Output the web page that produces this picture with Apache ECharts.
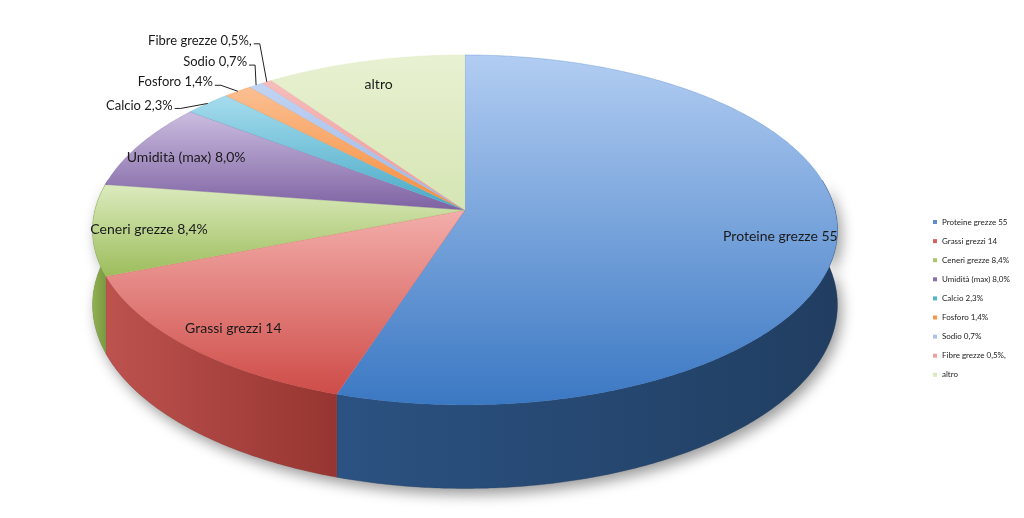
<!DOCTYPE html>
<html>
<head>
<meta charset="utf-8">
<script src="https://cdn.jsdelivr.net/npm/echarts@6/dist/echarts.min.js"></script>
<style>
  html, body { margin: 0; padding: 0; background: #fff; }
  #main { width: 1024px; height: 518px; }
</style>
</head>
<body>
<div id="main"></div>
<script>
// dati
var categories = ['Proteine grezze 55', 'Grassi grezzi 14', 'Ceneri grezze 8,4%', 'Umidità (max) 8,0%',
  'Calcio 2,3%', 'Fosforo 1,4%', 'Sodio 0,7%', 'Fibre grezze 0,5%,', 'altro'];
var values = [55, 14, 8.4, 8.0, 2.3, 1.4, 0.7, 0.5, 9.7];

// colori (chiaro in alto, scuro in basso) e pareti
var legendColors = ['#5b8bd0', '#d9625e', '#a9c86c', '#8a70ae', '#52b3cf', '#f79646', '#a9c2ea', '#eea3a2', '#dbe8c0'];
var topLight = ['#b2cdf2', '#f3aeab', '#dcebbf', '#cbbde0', '#a6dcee', '#fbbf92', '#c1d4f3', '#f6bdbc', '#e8f1d2'];
var topDark = ['#3b78c3', '#ce4c48', '#9cbd5b', '#7e62a2', '#47a9c5', '#f68c3a', '#9ab6e4', '#ec9795', '#d5e5b3'];
var wallLight = ['#2b5282', '#bd524e', '#90b150', '#6c528c', '#3b93ab', '#d87a2e', '#7f9bc7', '#c97d7c', '#b6c795'];
var wallDark = ['#213e61', '#963531', '#7b9843', '#574273', '#2f7a8e', '#b86424', '#6a84ad', '#a96766', '#9aab7a'];

// geometria della torta 3D in prospettiva
var CX = 465, CY = 210, RX = 370, RY = 172.7, P = 0.114, H = 74;
// posizione etichette esterne rispetto al bordo (fette piccole)
var outerOffsets = { 4: [-35, 2], 5: [-25, -9], 6: [-9, -23], 7: [-15, -41] };
var FONT = 'Lato, "Open Sans", sans-serif';

var total = values.reduce(function (a, b) { return a + b; }, 0);
var starts = [];
var acc = 0;
values.forEach(function (v) { starts.push(acc / total); acc += v; });

function proj(theta, r, drop) {
  var s = Math.sin(theta), c = Math.cos(theta);
  var w = 1 + P * r * c;
  return [CX + RX * r * s / w, CY - RY * r * c / w + (drop ? H / w : 0)];
}

function rim(a0, a1, drop) {
  var pts = [];
  var n = Math.max(2, Math.ceil((a1 - a0) / (Math.PI / 360)));
  for (var k = 0; k <= n; k++) {
    pts.push(proj(a0 + (a1 - a0) * k / n, 1, drop));
  }
  return pts;
}

function renderSlice(i) {
  var a0 = starts[i] * Math.PI * 2;
  var a1 = (starts[i] + values[i] / total) * Math.PI * 2;
  var mid = (a0 + a1) / 2;
  var children = [];

  // parete frontale
  var w0 = Math.max(a0, Math.PI * 80 / 180), w1 = Math.min(a1, Math.PI * 280 / 180);
  if (w1 > w0) {
    var pts = rim(w0, w1, false).concat(rim(w0, w1, true).reverse());
    children.push({
      type: 'polygon', z2: 2, shape: { points: pts },
      style: {
        fill: new echarts.graphic.LinearGradient(0, 0, 1, 0, [
          { offset: 0, color: wallLight[i] }, { offset: 1, color: wallDark[i] }]),
        stroke: wallDark[i], lineWidth: 0.3
      }
    });
  }

  // faccia superiore
  var top = [[CX, CY]].concat(rim(a0, a1, false));
  children.push({
    type: 'polygon', z2: 10, shape: { points: top },
    style: {
      fill: new echarts.graphic.LinearGradient(0, 0, 0, 1, [
        { offset: 0, color: topLight[i] }, { offset: 1, color: topDark[i] }]),
      stroke: topDark[i], lineWidth: 0.3
    }
  });

  // etichetta
  if (outerOffsets[i]) {
    var e = proj(mid, 1, false);
    var off = outerOffsets[i];
    var tx = e[0] + off[0], ty = e[1] + off[1];
    children.push({
      type: 'text', z2: 20,
      style: { text: categories[i], x: tx, y: ty, align: 'right', verticalAlign: 'middle',
        fill: '#1a1a1a', fontSize: 13, fontFamily: FONT }
    });
    children.push({
      type: 'polyline', z2: 20,
      shape: { points: [[tx + 2, ty + 3], [tx + 8, ty + 3], e] },
      style: { stroke: '#222', lineWidth: 1, fill: null }
    });
  } else {
    var c = proj(mid, 0.85, false);
    children.push({
      type: 'text', z2: 20,
      style: { text: categories[i], x: c[0], y: c[1] + 3, align: 'center', verticalAlign: 'middle',
        fill: '#1a1a1a', fontSize: 14, fontFamily: FONT }
    });
  }
  return { type: 'group', children: children };
}

var series = categories.map(function (name, i) {
  return {
    type: 'custom', name: name, coordinateSystem: 'none', silent: true,
    itemStyle: { color: legendColors[i] },
    data: [values[i]],
    renderItem: function () { return renderSlice(i); }
  };
});

// ombra sotto la torta
var shadowPts = rim(Math.PI * 80 / 180, Math.PI * 280 / 180, false)
  .concat(rim(Math.PI * 80 / 180, Math.PI * 280 / 180, true).reverse());

var myChart = echarts.init(document.getElementById('main'));
myChart.setOption({
  animation: false,
  backgroundColor: '#fff',
  graphic: [{
    type: 'polygon', z: 0, silent: true, shape: { points: shadowPts },
    style: { fill: '#888', shadowColor: 'rgba(0,0,0,0.4)', shadowBlur: 14, shadowOffsetX: 4, shadowOffsetY: 6 }
  }],
  legend: {
    orient: 'vertical', left: 928, top: 212,
    icon: 'rect', itemWidth: 4, itemHeight: 4, itemGap: 9.1,
    textStyle: { fontSize: 8, lineHeight: 10, color: '#222', fontFamily: FONT },
    data: categories
  },
  series: series
});
</script>
</body>
</html>
